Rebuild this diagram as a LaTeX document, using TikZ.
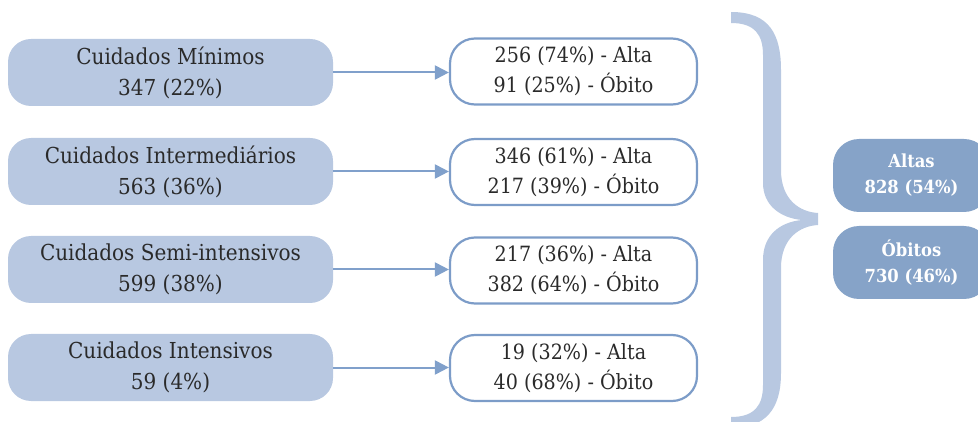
\documentclass[tikz,border=0pt]{standalone}
\usepackage{fontspec}
\setmainfont{DejaVu Serif}[FakeStretch=0.91]
\usetikzlibrary{arrows.meta}
\definecolor{lightfill}{HTML}{B8C8E1}
\definecolor{boxborder}{HTML}{7C9CC8}
\definecolor{arrowcol}{HTML}{80A0CB}
\definecolor{darkfill}{HTML}{86A3C8}
\definecolor{txt}{HTML}{2A2A2A}
\tikzset{
  catbox/.style={fill=lightfill, draw=none, rounded corners=23pt, minimum width=325pt, minimum height=67pt, inner sep=0pt, align=center, text=txt, font=\fontsize{22}{31}\selectfont},
  outbox/.style={fill=white, draw=boxborder, line width=2.2pt, rounded corners=25pt, minimum width=247pt, minimum height=66pt, inner sep=0pt, align=center, text=txt, font=\fontsize{21}{30}\selectfont},
  sumbox/.style={fill=darkfill, draw=none, rounded corners=26pt, minimum width=157pt, minimum height=73pt, inner sep=0pt, align=center, text=white, font=\fontsize{18}{26}\selectfont\bfseries},
  arr/.style={draw=arrowcol, line width=2pt, -{Triangle[length=14pt,width=14pt]}},
}
\begin{document}
\begin{tikzpicture}[x=1pt,y=-1pt]
\useasboundingbox (0,0) rectangle (978,422);
\clip (0,0) rectangle (978,422);
% left category boxes
\node[catbox] (l1) at (170.5,72.5) {Cuidados Mínimos\\347 (22\%)};
\node[catbox] (l2) at (170.5,171.5) {Cuidados Intermediários\\563 (36\%)};
\node[catbox] (l3) at (170.5,269.5) {Cuidados Semi-intensivos\\599 (38\%)};
\node[catbox] (l4) at (170.5,367.5) {Cuidados Intensivos\\59 (4\%)};
% outcome boxes
\node[outbox] (r1) at (573.5,71.5) {256 (74\%) - Alta\\91 (25\%) - Óbito};
\node[outbox] (r2) at (573.5,172) {346 (61\%) - Alta\\217 (39\%) - Óbito};
\node[outbox] (r3) at (573.5,270.5) {217 (36\%) - Alta\\382 (64\%) - Óbito};
\node[outbox] (r4) at (573.5,368) {19 (32\%) - Alta\\40 (68\%) - Óbito};
% arrows
\draw[arr] (l1.east) -- (r1.west |- l1.east);
\draw[arr] (l2.east) -- (r2.west |- l2.east);
\draw[arr] (l3.east) -- (r3.west |- l3.east);
\draw[arr] (l4.east) -- (r4.west |- l4.east);
% brace
\fill[lightfill] (731,12) .. controls (770,12) and (781,35) .. (781,70) -- (781,170)
  .. controls (781,200) and (800,212) .. (818,213) -- (818,225)
  .. controls (800,226) and (781,238) .. (781,268) -- (781,373)
  .. controls (781,410) and (765,428) .. (731,428) -- (731,417)
  .. controls (755,417) and (763,405) .. (763,385) -- (763,260)
  .. controls (763,235) and (780,222) .. (802,220)
  .. controls (780,218) and (763,205) .. (763,183) -- (763,55)
  .. controls (763,35) and (755,23) .. (731,23) -- cycle;
% summary boxes
\node[sumbox] (s1) at (911.5,175.5) {Altas\\828 (54\%)};
\node[sumbox] (s2) at (911.5,262.5) {Óbitos\\730 (46\%)};
\end{tikzpicture}
\end{document}
